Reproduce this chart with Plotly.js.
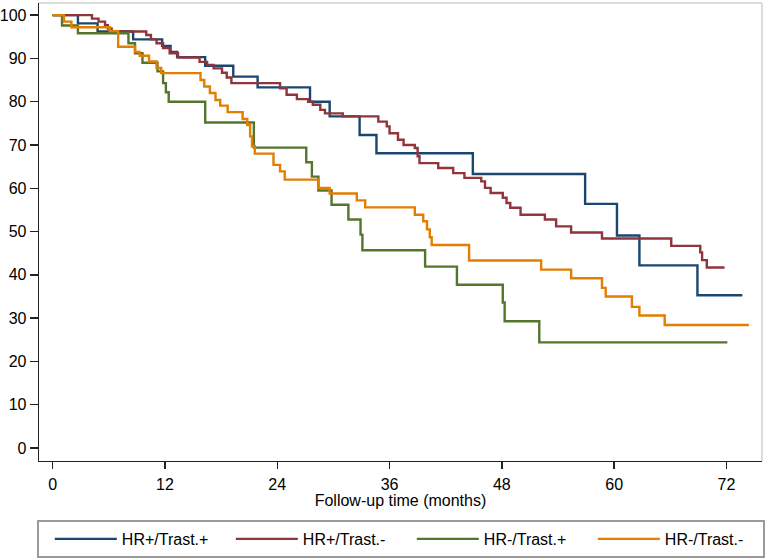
<!DOCTYPE html>
<html>
<head>
<meta charset="utf-8">
<script src="https://cdn.plot.ly/plotly-3.0.1.min.js"></script>
<style>html,body{margin:0;padding:0;background:#fff;}#chart{width:765px;height:560px;}</style>
</head>
<body>
<div id="chart"></div>
<script>
// Kaplan-Meier estimates (%)
var seriesNames = ["HR+/Trast.+", "HR+/Trast.-", "HR-/Trast.+", "HR-/Trast.-"];

var blueTime = [0, 2.7, 4.8, 8.6, 11.7, 12.6, 13.3, 16.3, 19.3, 21.9, 27.5, 29.6, 32.8, 34.6, 44.9, 56.9, 60.3, 62.7, 68.9, 73.7];
var blueSurv = [100, 98.1, 96.2, 94.4, 92.9, 91.5, 90.3, 88.3, 85.8, 83.3, 80.0, 76.6, 72.3, 68.1, 63.3, 56.4, 49.1, 42.2, 35.3, 35.3];

var redTime = [0, 4.2, 4.9, 5.6, 5.9, 6.3, 10.0, 10.5, 11.1, 11.8, 12.5, 13.4, 15.7, 16.5, 17.2, 18.1, 18.6, 19.1, 24.3, 25.0, 26.1, 27.3, 27.8, 28.6, 29.1, 31.0, 34.8, 35.7, 36.0, 36.9, 37.5, 38.7, 39.0, 39.2, 41.2, 42.8, 44.0, 45.8, 46.2, 46.8, 48.1, 48.5, 48.9, 50.0, 52.6, 53.8, 55.4, 58.7, 66.1, 69.2, 69.4, 69.9, 71.8];
var redSurv = [100, 99.2, 98.5, 97.7, 96.9, 96.2, 95.4, 94.4, 93.5, 92.4, 91.2, 90.2, 89.2, 88.5, 87.7, 86.7, 85.6, 84.3, 83.1, 81.6, 80.6, 80.0, 79.3, 78.1, 77.3, 76.6, 75.4, 74.3, 72.7, 71.2, 70.0, 69.3, 67.4, 65.8, 64.7, 63.5, 62.4, 61.6, 60.1, 58.9, 57.8, 56.6, 55.5, 53.9, 52.8, 51.2, 49.8, 48.4, 46.7, 45.2, 43.4, 41.7, 41.7];

var greenTime = [0, 1.0, 2.7, 8.1, 8.8, 9.6, 11.2, 11.8, 12.1, 12.4, 16.3, 21.5, 27.1, 27.7, 28.4, 29.8, 31.6, 32.9, 33.1, 39.8, 43.2, 48.1, 48.3, 52.0, 72.1];
var greenSurv = [100, 97.6, 95.8, 93.5, 91.2, 89.0, 87.0, 84.3, 82.2, 80.0, 75.2, 69.4, 66.0, 62.7, 59.5, 56.2, 52.8, 49.3, 45.7, 41.9, 37.7, 33.6, 29.3, 24.4, 24.4];

var orangeTime = [0, 1.2, 2.0, 6.1, 7.0, 8.8, 9.3, 10.3, 11.1, 11.6, 15.8, 16.2, 16.8, 17.4, 17.9, 18.7, 20.3, 20.8, 21.1, 21.3, 21.6, 23.6, 24.3, 24.8, 28.4, 29.6, 32.5, 33.4, 38.7, 39.6, 40.0, 40.3, 40.5, 44.5, 52.2, 55.4, 58.7, 59.1, 61.9, 62.7, 65.4, 74.4];
var orangeSurv = [100, 98.5, 97.2, 96.3, 92.7, 91.5, 90.6, 89.3, 87.8, 86.6, 85.0, 83.5, 82.0, 80.4, 79.1, 77.6, 76.0, 74.6, 72.0, 69.7, 68.0, 65.4, 63.9, 62.0, 60.1, 58.8, 57.2, 55.6, 53.9, 52.4, 50.5, 48.7, 46.9, 43.3, 41.2, 39.2, 37.0, 35.0, 32.6, 30.6, 28.4, 28.4];

var xTicks = [0, 12, 24, 36, 48, 60, 72];
var yTicks = [0, 10, 20, 30, 40, 50, 60, 70, 80, 90, 100];
var xTitle = "Follow-up time (months)";

var colors = ["#1a476f", "#90353b", "#55752f", "#e37e00"];
var times = [blueTime, redTime, greenTime, orangeTime];
var survs = [blueSurv, redSurv, greenSurv, orangeSurv];

var FONT = "Liberation Sans, Arial, Helvetica, sans-serif";

var traces = seriesNames.map(function (n, i) {
  return {
    x: times[i], y: survs[i], name: n, type: "scatter", mode: "lines",
    line: {shape: "hv", color: colors[i], width: 2.4},
    hoverinfo: "skip"
  };
});

var layout = {
  width: 765, height: 560,
  margin: {l: 39, r: 3, t: 3, b: 98, pad: 0},
  paper_bgcolor: "#ffffff", plot_bgcolor: "#ffffff",
  font: {family: FONT, size: 16, color: "#000"},
  showlegend: true,
  legend: {
    orientation: "h", x: -0.003, xanchor: "left", y: -0.1264, yanchor: "top",
    bordercolor: "#9a9a9a", borderwidth: 2, bgcolor: "#fff",
    entrywidth: 93, entrywidthmode: "pixels", itemwidth: 62, indentation: 11,
    font: {family: FONT, size: 16, color: "#000"}
  },
  xaxis: {
    range: [-1.46, 75.8], tickvals: xTicks, ticktext: xTicks.map(String),
    ticks: "outside", ticklen: 7, tickwidth: 1.3, tickcolor: "#222",
    showline: true, linecolor: "#222", linewidth: 1.3,
    showgrid: false, zeroline: false, automargin: false, ticklabelstandoff: 1,
    tickfont: {family: FONT, size: 16, color: "#000"},
    title: {text: xTitle, font: {family: FONT, size: 16, color: "#000"}, standoff: 2}
  },
  yaxis: {
    range: [-3, 102.8], tickvals: yTicks, ticktext: yTicks.map(String),
    ticks: "outside", ticklen: 8, tickwidth: 1.3, tickcolor: "#222",
    showline: true, linecolor: "#222", linewidth: 1.3,
    showgrid: false, zeroline: false, automargin: false,
    tickfont: {family: FONT, size: 16, color: "#000"}
  },
  shapes: [
    {type: "line", xref: "paper", yref: "paper", x0: 0, x1: 1, y0: 1, y1: 1, line: {color: "#dcdcdc", width: 2}},
    {type: "line", xref: "paper", yref: "paper", x0: 1, x1: 1, y0: 0, y1: 1, line: {color: "#dcdcdc", width: 2}}
  ]
};

Plotly.newPlot("chart", traces, layout, {displayModeBar: false, staticPlot: true});
</script>
</body>
</html>
